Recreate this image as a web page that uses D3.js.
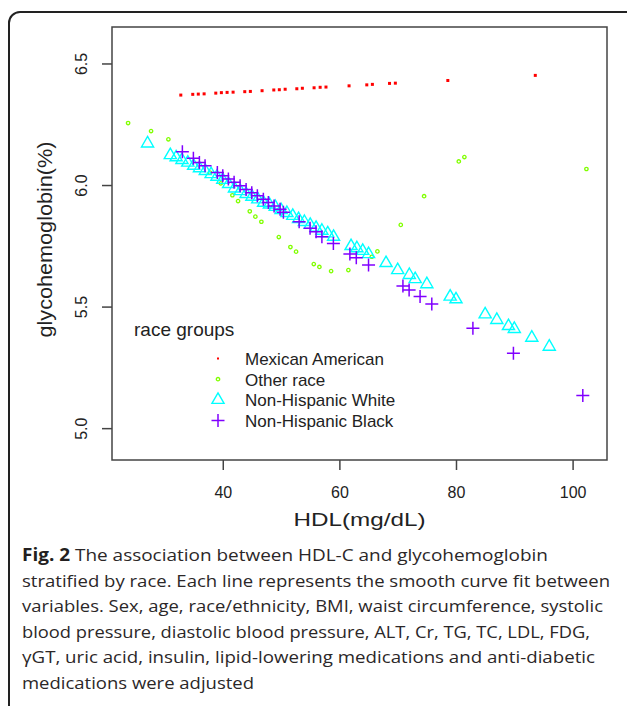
<!DOCTYPE html>
<html>
<head>
<meta charset="utf-8">
<script src="https://d3js.org/d3.v7.min.js"></script>
<style>
  body { margin: 0; background: #fff; }
  svg { display: block; }
</style>
</head>
<body>
<svg id="fig" width="627" height="706"></svg>
<script>
// HDL (mg/dL) vs adjusted glycohemoglobin (%)
const mexicanHDL = [32.8, 34.85, 35.8, 36.8, 38.8, 39.76, 40.74, 41.77, 43.77, 44.73, 46.74, 48.75, 49.7, 50.7, 52.7, 53.65, 55.66, 56.7, 57.7, 61.66, 64.7, 65.66, 68.6, 69.6, 78.6, 93.6];
const mexicanHb = [6.370, 6.373, 6.374, 6.375, 6.378, 6.380, 6.381, 6.382, 6.384, 6.385, 6.388, 6.391, 6.392, 6.394, 6.396, 6.398, 6.400, 6.402, 6.403, 6.408, 6.412, 6.414, 6.418, 6.419, 6.430, 6.451];

const otherHDL = [23.76, 27.7, 30.67, 37.82, 39.66, 41.65, 42.62, 44.63, 45.59, 46.62, 49.61, 51.6, 52.57, 55.61, 56.57, 58.58, 61.54, 65.56, 66.52, 70.53, 74.53, 80.48, 81.44, 102.37];
const otherHb = [6.255, 6.222, 6.188, 6.051, 6.007, 5.958, 5.934, 5.892, 5.870, 5.849, 5.786, 5.745, 5.726, 5.675, 5.663, 5.646, 5.650, 5.705, 5.727, 5.836, 5.954, 6.097, 6.115, 6.066];

const whiteHDL = [27.1, 31, 32, 33, 34, 35, 36, 37, 38, 39, 40, 41, 42, 43, 44, 45, 46, 47, 48, 49, 50, 51, 52, 53, 54, 55, 56, 57, 58, 59, 62, 63, 64, 65, 68, 70, 72, 73, 75, 79, 80, 85, 87, 89, 90, 93, 96];
const whiteHb = [6.171, 6.123, 6.114, 6.103, 6.092, 6.079, 6.069, 6.058, 6.045, 6.034, 6.021, 6.004, 5.986, 5.975, 5.963, 5.952, 5.941, 5.927, 5.920, 5.910, 5.897, 5.885, 5.873, 5.860, 5.848, 5.836, 5.824, 5.812, 5.801, 5.787, 5.749, 5.740, 5.729, 5.716, 5.679, 5.650, 5.630, 5.613, 5.592, 5.541, 5.530, 5.468, 5.445, 5.420, 5.408, 5.372, 5.335];

const blackHDL = [33.07, 34.96, 35.99, 36.96, 39.07, 40, 40.96, 41.94, 42.97, 44, 44.97, 45.93, 46.96, 47.82, 48.8, 49.83, 50.4, 53.1, 54.97, 56, 57, 58.97, 61.8, 62.9, 65, 70.9, 71.96, 73.84, 75.85, 82.9, 89.85, 101.75];
const blackHb = [6.137, 6.110, 6.093, 6.079, 6.052, 6.038, 6.025, 6.011, 5.997, 5.982, 5.968, 5.956, 5.942, 5.928, 5.914, 5.900, 5.888, 5.849, 5.822, 5.808, 5.787, 5.760, 5.716, 5.701, 5.671, 5.585, 5.568, 5.541, 5.511, 5.411, 5.308, 5.134];

const raceGroups = ["Mexican American", "Other race", "Non-Hispanic White", "Non-Hispanic Black"];
const raceColors = ["#ff0000", "#80ff00", "#00ffff", "#8000ff"];
const xTicks = [40, 60, 80, 100];
const yTicks = [5.0, 5.5, 6.0, 6.5];

const captionLines = [
  "The association between HDL-C and glycohemoglobin",
  "stratified by race. Each line represents the smooth curve fit between",
  "variables. Sex, age, race/ethnicity, BMI, waist circumference, systolic",
  "blood pressure, diastolic blood pressure, ALT, Cr, TG, TC, LDL, FDG,",
  "\u03b3GT, uric acid, insulin, lipid-lowering medications and anti-diabetic",
  "medications were adjusted"
];
const captionWidths = [526, 588, 581, 568, 573, 232];

const svg = d3.select("#fig");
const font = "'Liberation Sans', Arial, sans-serif";

// outer figure frame (runs off the right and bottom edge)
svg.append("rect")
  .attr("x", 9).attr("y", 12)
  .attr("width", 660).attr("height", 740)
  .attr("rx", 11)
  .style("fill", "none")
  .style("stroke", "#222")
  .style("stroke-width", 2);

const plot = { left: 112, right: 607, top: 27, bottom: 460 };

const x = d3.scaleLinear().domain([21.0, 105.9]).range([plot.left, plot.right]);
const y = d3.scaleLinear().domain([4.869, 6.650]).range([plot.bottom, plot.top]);

// axes
const xAxis = svg.append("g")
  .attr("transform", `translate(0,${plot.bottom})`)
  .call(d3.axisBottom(x).tickValues(xTicks).tickSize(10).tickPadding(17).tickFormat(d3.format("d")));
const yAxis = svg.append("g")
  .attr("transform", `translate(${plot.left},0)`)
  .call(d3.axisLeft(y).tickValues(yTicks).tickSize(10).tickFormat(d3.format(".1f")));

[xAxis, yAxis].forEach(g => {
  g.select(".domain").remove();
  g.selectAll(".tick line").style("stroke", "#444").style("stroke-width", 1.5);
  g.selectAll(".tick text")
    .style("font-family", font)
    .style("font-size", "16px")
    .style("fill", "#222");
});
xAxis.selectAll(".tick text").attr("dy", "0.71em");
yAxis.selectAll(".tick text")
  .attr("x", null).attr("dy", null)
  .attr("transform", "translate(-25,0) rotate(-90)")
  .style("text-anchor", "middle");

svg.append("rect")
  .attr("x", plot.left).attr("y", plot.top)
  .attr("width", plot.right - plot.left)
  .attr("height", plot.bottom - plot.top)
  .style("fill", "none")
  .style("stroke", "#444")
  .style("stroke-width", 1.5);

// axis titles
svg.append("text")
  .attr("x", (plot.left + plot.right) / 2)
  .attr("y", 526)
  .attr("textLength", 132)
  .attr("lengthAdjust", "spacingAndGlyphs")
  .style("text-anchor", "middle")
  .style("font-family", font)
  .style("font-size", "19px")
  .style("fill", "#222")
  .text("HDL(mg/dL)");

svg.append("text")
  .attr("transform", `translate(52,${(plot.top + plot.bottom) / 2 - 4}) rotate(-90)`)
  .attr("textLength", 196)
  .attr("lengthAdjust", "spacingAndGlyphs")
  .style("text-anchor", "middle")
  .style("font-family", font)
  .style("font-size", "20px")
  .style("fill", "#222")
  .text("glycohemoglobin(%)");

// markers
const triPath = r => `M0,${-r}L${r * 0.866},${r / 2}L${-r * 0.866},${r / 2}Z`;
const crossPath = a => `M${-a},0H${a}M0,${-a}V${a}`;

function drawMarker(sel, group, small) {
  if (group === 0) {
    const s = small ? 2 : 3;
    sel.append("rect")
      .attr("x", -s / 2).attr("y", -s / 2)
      .attr("width", s).attr("height", s)
      .style("fill", raceColors[0]);
  } else if (group === 1) {
    sel.append("circle")
      .attr("r", 1.7)
      .style("fill", "none")
      .style("stroke", raceColors[1])
      .style("stroke-width", 1.3);
  } else if (group === 2) {
    sel.append("path")
      .attr("d", triPath(7))
      .style("fill", "none")
      .style("stroke", raceColors[2])
      .style("stroke-width", 1.4);
  } else {
    sel.append("path")
      .attr("d", crossPath(6.5))
      .style("fill", "none")
      .style("stroke", raceColors[3])
      .style("stroke-width", 1.5);
  }
}

const series = [
  d3.zip(mexicanHDL, mexicanHb),
  d3.zip(otherHDL, otherHb),
  d3.zip(whiteHDL, whiteHb),
  d3.zip(blackHDL, blackHb)
];

series.forEach((pts, i) => {
  svg.append("g")
    .selectAll("g")
    .data(pts)
    .join("g")
    .attr("transform", d => `translate(${x(d[0])},${y(d[1])})`)
    .each(function () { drawMarker(d3.select(this), i, false); });
});

// legend
const legend = svg.append("g");
legend.append("text")
  .attr("x", 134).attr("y", 336)
  .style("font-family", font)
  .style("font-size", "19px")
  .style("fill", "#222")
  .text("race groups");

raceGroups.forEach((name, i) => {
  const cy = 358.5 + i * 20.7;
  const item = legend.append("g");
  item.append("g")
    .attr("transform", `translate(218,${cy})`)
    .each(function () { drawMarker(d3.select(this), i, true); });
  item.append("text")
    .attr("x", 245).attr("y", cy + 6.3)
    .style("font-family", font)
    .style("font-size", "17px")
    .style("fill", "#222")
    .text(name);
});

// caption
const cap = svg.append("g")
  .style("font-family", "'Open Sans', 'Noto Sans', sans-serif")
  .style("font-size", "17px")
  .style("fill", "#2b2728");

captionLines.forEach((line, i) => {
  const t = cap.append("text")
    .attr("x", 22)
    .attr("y", 561 + i * 25.5)
    .attr("textLength", captionWidths[i])
    .attr("lengthAdjust", "spacingAndGlyphs");
  if (i === 0) {
    t.append("tspan").style("font-weight", "bold").style("fill", "#231f20").text("Fig. 2");
    t.append("tspan").text(" " + line);
  } else {
    t.text(line);
  }
});
</script>
</body>
</html>
